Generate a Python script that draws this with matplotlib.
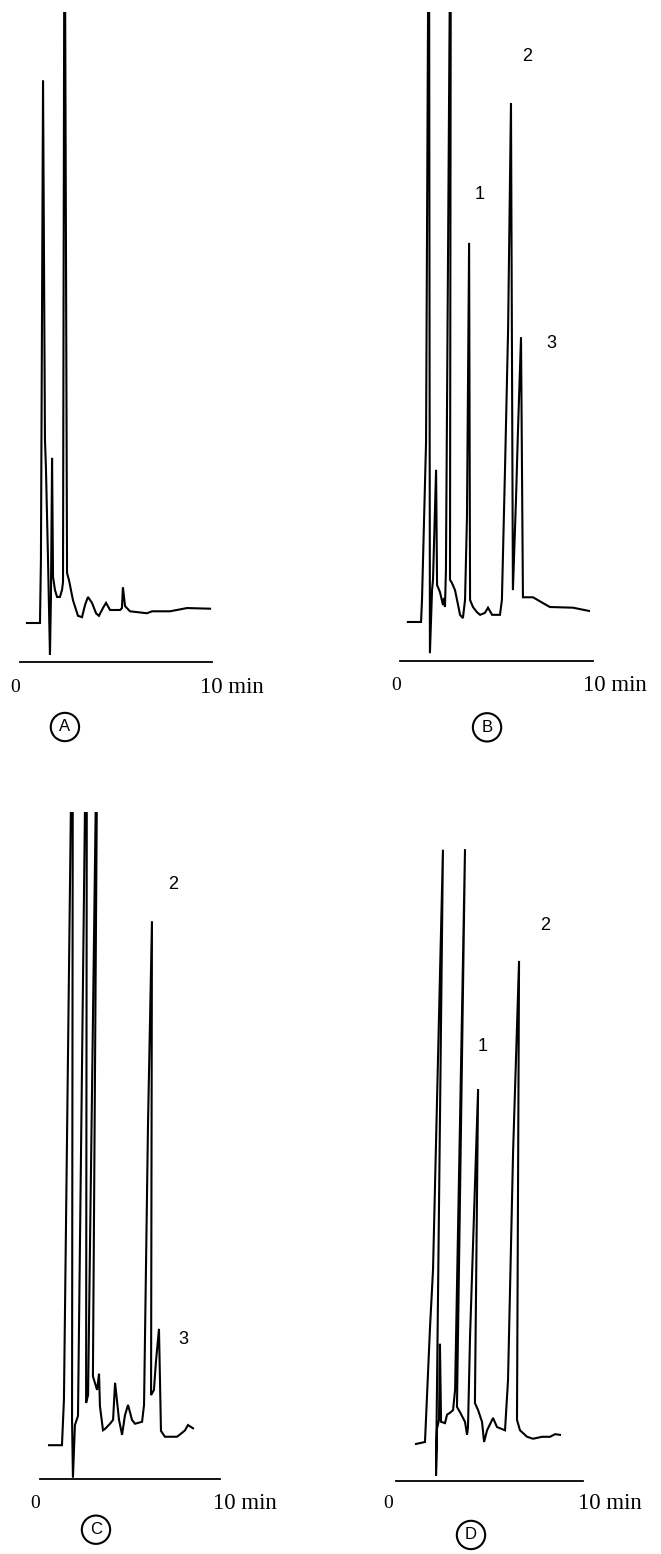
import matplotlib.pyplot as plt

# chromatogram traces (time in min, detector response in arbitrary units)
a_time = [0.36, 1.04, 1.09, 1.20, 1.30, 1.35, 1.46, 1.56, 1.61, 1.67, 1.72, 1.82, 1.93,
          2.08, 2.19, 2.24, 2.32, 2.45, 2.55, 2.76, 3.02, 3.23, 3.39, 3.54, 3.75, 3.96,
          4.11, 4.32, 4.48, 4.69, 5.21, 5.31, 5.36, 5.47, 5.73, 6.61, 6.88, 7.81, 8.70, 9.90]
a_signal = [6.0, 6.0, 15.7, 89.5, 34.2, 30.0, 15.7, 1.1, 9.5, 31.4, 13.1, 11.1, 10.0,
            10.0, 11.1, 12.3, 130.0, 13.7, 12.6, 9.5, 7.1, 6.9, 8.8, 10.0, 9.1, 7.5,
            7.1, 8.3, 9.1, 8.0, 8.0, 8.3, 11.5, 8.6, 7.8, 7.5, 7.8, 7.8, 8.3, 8.2]

b_time = [0.41, 1.09, 1.14, 1.35, 1.50, 1.55, 1.66, 1.71, 1.87, 1.92, 2.07, 2.23, 2.28,
          2.33, 2.38, 2.64, 2.59, 2.69, 2.85, 3.01, 3.11, 3.26, 3.37, 3.47, 3.58, 3.63,
          3.78, 3.99, 4.15, 4.40, 4.56, 4.77, 5.18, 5.28, 5.44, 5.60, 5.75, 5.85, 6.01,
          6.11, 6.27, 6.37, 6.48, 6.89, 7.41, 7.77, 8.96, 9.79]
b_signal = [6.0, 6.0, 9.4, 33.7, 130.0, 1.2, 10.9, 12.5, 29.4, 11.7, 10.6, 8.6, 9.7,
            8.3, 14.0, 130.0, 12.5, 12.0, 10.9, 8.6, 7.1, 6.6, 9.4, 22.2, 64.3, 9.4,
            8.3, 7.5, 7.1, 7.4, 8.2, 7.1, 7.1, 9.4, 29.4, 50.9, 85.8, 10.9, 24.8,
            35.2, 49.8, 9.8, 9.8, 9.8, 8.9, 8.3, 8.2, 7.7]

c_time = [0.50, 1.22, 1.33, 1.83, 1.78, 1.83, 1.94, 2.11, 2.61, 2.56, 2.67, 3.22, 2.94,
          3.17, 3.28, 3.33, 3.50, 3.61, 3.89, 4.06, 4.17, 4.39, 4.56, 4.72, 4.89, 5.11,
          5.28, 5.67, 5.78, 6.00, 6.22, 6.17, 6.33, 6.44, 6.61, 6.72, 6.94, 7.61, 7.89,
          8.06, 8.22, 8.50]
c_signal = [5.2, 5.2, 12.2, 130.0, 9.1, 0.2, 8.3, 9.7, 130.0, 11.7, 12.9, 130.0, 15.8,
            13.7, 16.2, 11.2, 7.5, 7.7, 8.5, 9.1, 14.8, 9.1, 6.8, 9.8, 11.4, 9.1,
            8.5, 8.8, 11.4, 54.6, 85.8, 12.9, 13.7, 18.0, 23.1, 7.4, 6.5, 6.5, 7.1,
            7.5, 8.3, 7.8]

d_time = [1.07, 1.55, 1.82, 1.98, 2.51, 2.14, 2.19, 2.30, 2.35, 2.41, 2.62, 2.73, 2.89,
          3.05, 3.16, 3.69, 3.26, 3.42, 3.69, 3.80, 3.85, 3.96, 4.39, 4.22, 4.39, 4.60,
          4.71, 4.87, 5.19, 5.40, 5.83, 5.99, 6.26, 6.58, 6.47, 6.63, 7.01, 7.33, 7.81,
          8.24, 8.50, 8.77]
d_signal = [5.7, 6.0, 23.7, 32.5, 97.1, 0.8, 8.0, 9.4, 21.1, 9.1, 8.9, 10.2, 10.5,
            10.9, 14.0, 97.2, 11.4, 10.6, 9.1, 7.1, 8.3, 22.3, 60.3, 12.0, 10.9, 9.1,
            6.0, 7.8, 9.7, 8.3, 7.8, 15.5, 50.5, 80.0, 9.4, 7.8, 6.8, 6.5, 6.8,
            6.8, 7.2, 7.1]

# peak numbers: (label, time, height)
b_peaks = [("1", 4.15, 71.7), ("2", 6.58, 92.9), ("3", 7.82, 48.9)]
c_peaks = [("2", 7.39, 91.4), ("3", 7.94, 21.5)]
d_peaks = [("1", 4.65, 66.9), ("2", 7.97, 85.5)]

W, H = 661, 1554


def make_axes(fig, left, right, base, top, ymax):
    # box given in pixels of the scan: x from t=0 to t=10, y from the time axis to the top
    ax = fig.add_axes([left / W, 1 - base / H, (right - left) / W, (base - top) / H])
    ax.set_xlim(0, 10)
    ax.set_ylim(0, ymax)
    ax.axis("off")
    return ax


def draw_panel(ax, time, signal, peaks, letter, zero_t, ten_t, label_s, circle_t, circle_s):
    ax.plot(time, signal, color="black", lw=1.5, solid_joinstyle="miter")
    ax.plot([0, 10], [0, 0], color="black", lw=1.3, clip_on=False)
    ax.text(zero_t, label_s, "0", ha="center", va="center",
            family="Liberation Serif", fontsize=14)
    ax.text(ten_t, label_s, "10 min", ha="left", va="center",
            family="Liberation Serif", fontsize=16.5)
    for name, t, s in peaks:
        ax.text(t, s, name, ha="center", va="center",
                family="Liberation Sans", fontsize=13)
    ax.text(circle_t, circle_s, letter, ha="center", va="center",
            family="Liberation Sans", fontsize=12,
            bbox=dict(boxstyle="circle,pad=0.4", fc="white", ec="black", lw=1.5))


fig = plt.figure(figsize=(W / 100, H / 100), dpi=100)

ax_a = make_axes(fig, 20, 212, 662, 12, 100)
draw_panel(ax_a, a_time, a_signal, [], "A", -0.26, 9.38, -4.0, 2.34, -10.0)

ax_b = make_axes(fig, 400, 593, 661, 12, 99.8)
draw_panel(ax_b, b_time, b_signal, b_peaks, "B", -0.21, 9.48, -3.8, 4.51, -10.2)

ax_c = make_axes(fig, 40, 220, 1479, 812, 102.6)
draw_panel(ax_c, c_time, c_signal, c_peaks, "C", -0.28, 9.61, -3.7, 3.11, -7.8)

ax_d = make_axes(fig, 396, 583, 1481, 840, 98.6)
draw_panel(ax_d, d_time, d_signal, d_peaks, "D", -0.43, 9.73, -3.4, 4.01, -8.3)

fig.savefig("out.png", dpi=100, facecolor="white")
